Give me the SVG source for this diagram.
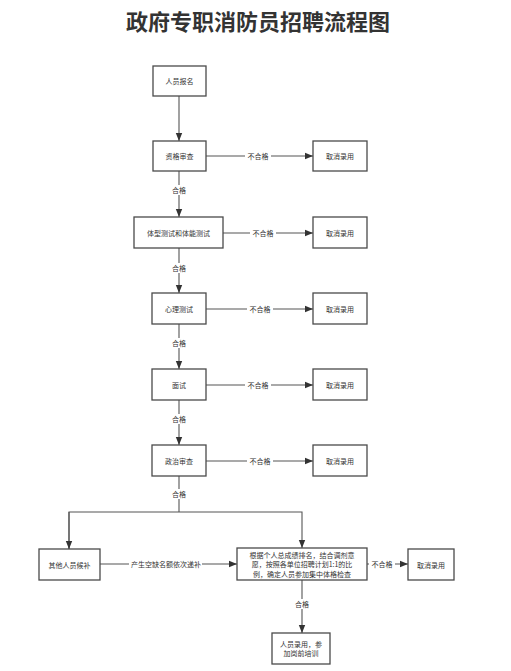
<svg xmlns="http://www.w3.org/2000/svg" width="511" height="671" viewBox="0 0 511 671">
<style>
.box{fill:#fff;stroke:#4a4a4a;stroke-width:1.3}
.t{font-family:"Noto Sans CJK SC","Noto Sans",sans-serif;font-size:7px;fill:#333;text-anchor:middle;dominant-baseline:central}
.ln{fill:none;stroke:#555;stroke-width:1.1}
.lb{fill:#fff}
.title{font-family:"Noto Sans CJK SC","Noto Sans",sans-serif;font-size:22px;font-weight:bold;fill:#333;text-anchor:middle}
</style>
<defs>
<marker id="ah" markerUnits="userSpaceOnUse" markerWidth="8" markerHeight="8" viewBox="0 0 8 8" refX="8" refY="4" orient="auto">
<path d="M0,0.8 L8,4 L0,7.2 Z" fill="#333"/>
</marker>
</defs>
<rect width="511" height="671" fill="#fff"/>
<text class="title" x="258" y="30">政府专职消防员招聘流程图</text>

<g id="connectors">
<path class="ln" d="M179,96 V141" marker-end="url(#ah)"/>
<path class="ln" d="M206,156 H313" marker-end="url(#ah)"/>
<path class="ln" d="M179,171 V217" marker-end="url(#ah)"/>
<path class="ln" d="M223,233 H313" marker-end="url(#ah)"/>
<path class="ln" d="M179,248 V293" marker-end="url(#ah)"/>
<path class="ln" d="M206,309 H313" marker-end="url(#ah)"/>
<path class="ln" d="M179,324 V369" marker-end="url(#ah)"/>
<path class="ln" d="M206,385 H313" marker-end="url(#ah)"/>
<path class="ln" d="M179,400 V445" marker-end="url(#ah)"/>
<path class="ln" d="M206,461 H313" marker-end="url(#ah)"/>
<path class="ln" d="M179,476 V512"/>
<path class="ln" d="M69,549 V512 H302 V548" marker-end="url(#ah)"/>
<path class="ln" d="M69,512 V549" marker-end="url(#ah)"/>
<path class="ln" d="M100,564 H237" marker-end="url(#ah)"/>
<path class="ln" d="M367,564 H408" marker-end="url(#ah)"/>
<path class="ln" d="M302,580 V633" marker-end="url(#ah)"/>
<g>
<rect class="lb" x="245" y="151" width="26" height="10"/><text class="t" x="258" y="156">不合格</text>
<rect class="lb" x="170" y="185" width="18" height="10"/><text class="t" x="179" y="190">合格</text>
<rect class="lb" x="250" y="228" width="26" height="10"/><text class="t" x="263" y="233">不合格</text>
<rect class="lb" x="170" y="263" width="18" height="10"/><text class="t" x="179" y="268">合格</text>
<rect class="lb" x="247" y="304" width="26" height="10"/><text class="t" x="260" y="309">不合格</text>
<rect class="lb" x="170" y="338" width="18" height="10"/><text class="t" x="179" y="343">合格</text>
<rect class="lb" x="245" y="380" width="26" height="10"/><text class="t" x="258" y="385">不合格</text>
<rect class="lb" x="170" y="414" width="18" height="10"/><text class="t" x="179" y="419">合格</text>
<rect class="lb" x="247" y="456" width="26" height="10"/><text class="t" x="260" y="461">不合格</text>
<rect class="lb" x="170" y="489" width="18" height="10"/><text class="t" x="179" y="494">合格</text>
<rect class="lb" x="129" y="559" width="73" height="10"/><text class="t" x="166" y="564">产生空缺名额依次递补</text>
<rect class="lb" x="369" y="559" width="26" height="10"/><text class="t" x="382" y="564">不合格</text>
<rect class="lb" x="293" y="599" width="18" height="10"/><text class="t" x="302" y="604">合格</text>
</g>
</g>

<g id="n1"><rect class="box" x="153" y="66" width="53" height="30"/><text class="t" x="179.5" y="81">人员报名</text></g>
<g id="n2"><rect class="box" x="153" y="141" width="53" height="30"/><text class="t" x="179.5" y="156">资格审查</text></g>
<g id="r1"><rect class="box" x="313" y="141" width="54" height="30"/><text class="t" x="340" y="156">取消录用</text></g>
<g id="n3"><rect class="box" x="134" y="217" width="89" height="31"/><text class="t" x="178.5" y="233">体型测试和体能测试</text></g>
<g id="r2"><rect class="box" x="313" y="217" width="54" height="31"/><text class="t" x="340" y="233">取消录用</text></g>
<g id="n4"><rect class="box" x="152" y="293" width="54" height="31"/><text class="t" x="179" y="309">心理测试</text></g>
<g id="r3"><rect class="box" x="313" y="293" width="54" height="31"/><text class="t" x="340" y="309">取消录用</text></g>
<g id="n5"><rect class="box" x="152" y="369" width="54" height="31"/><text class="t" x="179" y="385">面试</text></g>
<g id="r4"><rect class="box" x="313" y="369" width="54" height="31"/><text class="t" x="340" y="385">取消录用</text></g>
<g id="n6"><rect class="box" x="152" y="445" width="54" height="31"/><text class="t" x="179" y="461">政治审查</text></g>
<g id="r5"><rect class="box" x="313" y="445" width="54" height="31"/><text class="t" x="340" y="461">取消录用</text></g>
<g id="n7"><rect class="box" x="39" y="549" width="61" height="31"/><text class="t" x="69.5" y="565">其他人员候补</text></g>
<g id="n8"><rect class="box" x="237" y="548" width="130" height="32"/>
<text class="t" x="302" y="554.5">根据个人总成绩排名，结合调剂意</text>
<text class="t" x="302" y="564">愿，按照各单位招聘计划1:1的比</text>
<text class="t" x="302" y="573.5">例，确定人员参加集中体格检查</text></g>
<g id="r6"><rect class="box" x="408" y="549" width="46" height="31"/><text class="t" x="431" y="565">取消录用</text></g>
<g id="n9"><rect class="box" x="272" y="633" width="58" height="31"/>
<text class="t" x="301" y="643.5">人员录用，参</text>
<text class="t" x="301" y="653">加岗前培训</text></g>
</svg>
